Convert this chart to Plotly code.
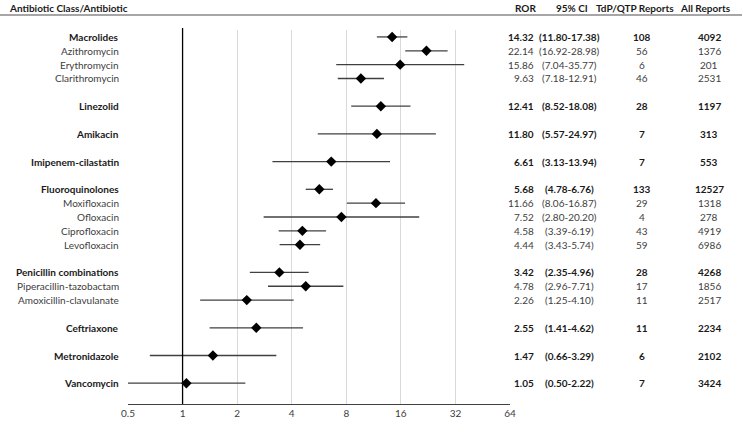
import plotly.graph_objects as go

# ---- data ----
groups = [
    [("Macrolides", 14.32, 11.80, 17.38, 108, 4092),
     ("Azithromycin", 22.14, 16.92, 28.98, 56, 1376),
     ("Erythromycin", 15.86, 7.04, 35.77, 6, 201),
     ("Clarithromycin", 9.63, 7.18, 12.91, 46, 2531)],
    [("Linezolid", 12.41, 8.52, 18.08, 28, 1197)],
    [("Amikacin", 11.80, 5.57, 24.97, 7, 313)],
    [("Imipenem-cilastatin", 6.61, 3.13, 13.94, 7, 553)],
    [("Fluoroquinolones", 5.68, 4.78, 6.76, 133, 12527),
     ("Moxifloxacin", 11.66, 8.06, 16.87, 29, 1318),
     ("Ofloxacin", 7.52, 2.80, 20.20, 4, 278),
     ("Ciprofloxacin", 4.58, 3.39, 6.19, 43, 4919),
     ("Levofloxacin", 4.44, 3.43, 5.74, 59, 6986)],
    [("Penicillin combinations", 3.42, 2.35, 4.96, 28, 4268),
     ("Piperacillin-tazobactam", 4.78, 2.96, 7.71, 17, 1856),
     ("Amoxicillin-clavulanate", 2.26, 1.25, 4.10, 11, 2517)],
    [("Ceftriaxone", 2.55, 1.41, 4.62, 11, 2234)],
    [("Metronidazole", 1.47, 0.66, 3.29, 6, 2102)],
    [("Vancomycin", 1.05, 0.50, 2.22, 7, 3424)],
]
tick_vals = [0.5, 1, 2, 4, 8, 16, 32, 64]
tick_text = ["0.5", "1", "2", "4", "8", "16", "32", "64"]
headers = ["Antibiotic Class/Antibiotic", "ROR", "95% CI", "TdP/QTP Reports", "All Reports"]

# ---- build rows ----
names, ror, lo, hi, tdp, allr, bold, ypos = [], [], [], [], [], [], [], []
row = 0
for g in groups:
    for i, (n, r, l, h, t, a) in enumerate(g):
        names.append(n); ror.append(r); lo.append(l); hi.append(h)
        tdp.append(t); allr.append(a); bold.append(i == 0); ypos.append(row)
        row += 1
    row += 1
nrows = row - 1

W, H = 742, 426
x0px, x1px = 128, 510
ytop, ybot = 30, 404

fig = go.Figure()
fig.add_trace(go.Scatter(
    x=ror, y=ypos, mode="markers",
    marker=dict(symbol="diamond", size=8, color="black"),
    error_x=dict(type="data", symmetric=False,
                 array=[h - r for h, r in zip(hi, ror)],
                 arrayminus=[r - l for r, l in zip(ror, lo)],
                 color="#404040", thickness=1.3, width=0),
    hoverinfo="skip", showlegend=False,
))

ann = []
TXT = "#404040"
BLD = "#1a1a1a"
FONT = "Lato"
fsz = 10
for n, r, l, h, t, a, b, y in zip(names, ror, lo, hi, tdp, allr, bold, ypos):
    col = BLD if b else TXT
    wrap = (lambda s: f"<b>{s}</b>") if b else (lambda s: s)
    ann.append(dict(x=121 / W, y=y, xref="paper", yref="y", text=wrap(n),
                    xanchor="right", showarrow=False, font=dict(size=fsz, color=col, family=FONT)))
    ann.append(dict(x=536 / W, y=y, xref="paper", yref="y", text=wrap(f"{r:.2f}"),
                    xanchor="right", showarrow=False, font=dict(size=fsz, color=col, family=FONT)))
    ann.append(dict(x=569 / W, y=y, xref="paper", yref="y", text=wrap(f"({l:.2f}-{h:.2f})"),
                    xanchor="center", showarrow=False, font=dict(size=fsz, color=col, family=FONT)))
    ann.append(dict(x=642 / W, y=y, xref="paper", yref="y", text=wrap(str(t)),
                    xanchor="center", showarrow=False, font=dict(size=fsz, color=col, family=FONT)))
    ann.append(dict(x=709 / W, y=y, xref="paper", yref="y", text=wrap(str(a)),
                    xanchor="center", showarrow=False, font=dict(size=fsz, color=col, family=FONT)))

hx = [(7, "left"), (525, "center"), (572, "center"), (635, "center"), (705, "center")]
for (px, anc), htxt in zip(hx, headers):
    ann.append(dict(x=px / W, y=1 - 8 / H, xref="paper", yref="paper", text=f"<b>{htxt}</b>",
                    xanchor=anc, yanchor="middle", showarrow=False,
                    font=dict(size=10, color=BLD, family=FONT)))

shapes = [
    dict(type="line", xref="paper", yref="paper", x0=0, x1=1, y0=1 - 15 / H, y1=1 - 15 / H,
         line=dict(color="#a6a6a6", width=2)),
    dict(type="line", xref="x", yref="paper", x0=1, x1=1, y0=1 - ybot / H, y1=1 - 28 / H,
         line=dict(color="black", width=1.3)),
]

fig.update_layout(
    template="none",
    width=W, height=H, margin=dict(l=0, r=0, t=0, b=0, pad=0, autoexpand=False),
    paper_bgcolor="white", plot_bgcolor="white",
    font=dict(family=FONT, color=TXT),
    annotations=ann, shapes=shapes,
    xaxis=dict(type="log", range=[-0.30103, 1.80618],
               domain=[x0px / W, x1px / W], automargin=False,
               tickvals=tick_vals, ticktext=tick_text,
               showgrid=True, gridcolor="#d9d9d9", gridwidth=1,
               showline=True, linecolor="#404040", linewidth=1.3,
               ticks="", zeroline=False,
               tickfont=dict(size=10, color=TXT, family=FONT)),
    yaxis=dict(range=[nrows + 0.5, -0.5], domain=[1 - ybot / H, 1 - ytop / H],
               automargin=False,
               showgrid=False, showticklabels=False, zeroline=False, showline=False),
)

fig.write_html("out.html", config={"displayModeBar": False, "staticPlot": True},
               post_script="document.body.style.margin='0';document.body.style.padding='0';"
                           "document.body.style.overflow='hidden';")
